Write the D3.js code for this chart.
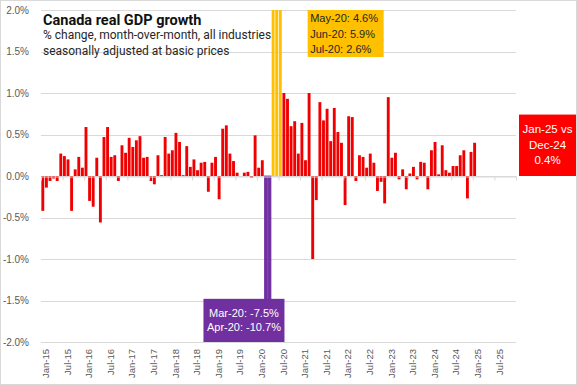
<!DOCTYPE html>
<html>
<head>
<meta charset="utf-8">
<script src="https://cdn.jsdelivr.net/npm/d3@7"></script>
<style>
  body { margin: 0; background: #fff; }
  .axis text { font-family: "Liberation Sans", Arial, sans-serif; fill: #595959; }
</style>
</head>
<body>
<div id="my_chart"></div>
<script>
// monthly % change, Jan-15 .. Jan-25
var gdp_values = [
  -0.42, -0.14, -0.06, -0.03, -0.06, 0.27, 0.24, 0.20, -0.42, 0.08, 0.23, 0.10,
  0.59, -0.30, -0.37, 0.22, -0.56, 0.47, 0.59, 0.23, 0.25, -0.06, 0.37, 0.28,
  0.46, 0.35, 0.43, 0.48, 0.22, 0.23, -0.06, -0.10, 0.25, 0.01, 0.47, 0.27,
  0.31, 0.52, 0.41, 0.01, 0.36, 0.11, 0.20, 0.07, 0.16, 0.17, -0.19, 0.16,
  0.23, -0.28, 0.57, 0.61, 0.27, 0.18, 0.04, 0.00, 0.04, 0.05, -0.02, 0.49,
  0.10, 0.19, -7.5, -10.7, 4.6, 5.9, 2.6, 1.00, 0.93, 0.60, 0.66, 0.27,
  0.64, 0.19, 1.00, -1.00, -0.29, 0.89, 0.67, 0.81, 0.42, 0.82, 0.53, 0.40,
  -0.35, 0.72, 0.71, -0.06, 0.25, 0.23, 0.10, 0.27, 0.16, -0.18, -0.07, -0.33,
  0.95, 0.22, 0.28, -0.04, 0.08, -0.16, 0.03, 0.11, -0.04, 0.17, 0.16, -0.16,
  0.31, 0.41, 0.02, 0.37, 0.07, 0.04, 0.12, 0.12, 0.25, 0.31, -0.27, 0.29,
  0.40
];
var axis_start = new Date(2015, 0, 1);
var axis_end = new Date(2026, 0, 1);   // axis runs to Dec-25
var tick_labels = ["Jan-15", "Jul-15", "Jan-16", "Jul-16", "Jan-17", "Jul-17", "Jan-18", "Jul-18",
  "Jan-19", "Jul-19", "Jan-20", "Jul-20", "Jan-21", "Jul-21", "Jan-22", "Jul-22",
  "Jan-23", "Jul-23", "Jan-24", "Jul-24", "Jan-25", "Jul-25"];
var y_ticks = [-2.0, -1.5, -1.0, -0.5, 0.0, 0.5, 1.0, 1.5, 2.0];
var purple_months = ["Mar-20", "Apr-20"];
var gold_months = ["May-20", "Jun-20", "Jul-20"];
var gold_note = ["May-20: 4.6%", "Jun-20: 5.9%", "Jul-20: 2.6%"];
var purple_note = ["Mar-20: -7.5%", "Apr-20: -10.7%"];
var last_note = ["Jan-25 vs", "Dec-24", "0.4%"];

var W = 577, H = 385;
var margin = {top: 10, right: 61, bottom: 43, left: 41};
var width = W - margin.left - margin.right;
var height = H - margin.top - margin.bottom;

var fmt = d3.timeFormat("%b-%y");
var months = d3.timeMonth.range(axis_start, axis_end).map(fmt);
var gdp_db = gdp_values.map(function (v, i) { return {month: months[i], value: v}; });

var svg = d3.select("#my_chart").append("svg")
  .attr("width", W)
  .attr("height", H);

svg.append("rect")
  .attr("x", 0.5).attr("y", 0.5)
  .attr("width", W - 1).attr("height", H - 1)
  .attr("fill", "#fff")
  .attr("stroke", "#d9d9d9");

var g = svg.append("g")
  .attr("transform", "translate(" + margin.left + "," + margin.top + ")");

var x = d3.scaleBand()
  .domain(months)
  .range([0, width])
  .paddingInner(0.2)
  .paddingOuter(0.1);

var y = d3.scaleLinear()
  .domain([-2, 2])
  .range([height, 0]);

// gridlines
g.append("g")
  .selectAll("line")
  .data(y_ticks)
  .enter().append("line")
  .attr("x1", 0).attr("x2", width)
  .attr("y1", function (d) { return Math.round(y(d)) + 0.5; })
  .attr("y2", function (d) { return Math.round(y(d)) + 0.5; })
  .attr("stroke", "#d9d9d9");

// y labels
g.append("g")
  .attr("class", "axis")
  .call(d3.axisLeft(y).tickValues(y_ticks).tickSize(0).tickPadding(12)
    .tickFormat(function (d) { return d.toFixed(1) + "%"; }))
  .call(function (a) { a.select(".domain").remove(); })
  .selectAll("text").attr("font-size", 10).attr("font-family", "Liberation Sans, Arial, sans-serif");

svg.append("clipPath").attr("id", "plotclip")
  .append("rect").attr("x", 0).attr("y", 0).attr("width", width).attr("height", height);

function barColor(m) {
  if (purple_months.indexOf(m) >= 0) return "#7030a0";
  if (gold_months.indexOf(m) >= 0) return "#ffc000";
  return "#f00000";
}

g.append("g")
  .attr("clip-path", "url(#plotclip)")
  .selectAll("rect")
  .data(gdp_db)
  .enter().append("rect")
  .attr("x", function (d) { return x(d.month); })
  .attr("width", x.bandwidth())
  .attr("y", function (d) { return d.value >= 0 ? y(d.value) : y(0); })
  .attr("height", function (d) { return Math.abs(y(d.value) - y(0)); })
  .attr("fill", function (d) { return barColor(d.month); })
  // the two lockdown months read as one solid bar
  .attr("stroke", function (d) { return purple_months.indexOf(d.month) >= 0 ? "#7030a0" : "none"; })
  .attr("stroke-width", 0.8);

// zero axis with ticks at category boundaries every 6 months
var xb = d3.scaleLinear().domain([0, months.length]).range([0, width]);
g.append("g")
  .attr("transform", "translate(0," + (Math.round(y(0)) + 0.5) + ")")
  .call(d3.axisBottom(xb).tickValues(d3.range(0, months.length + 1, 6)).tickSizeInner(4).tickSizeOuter(0).tickFormat(""))
  .call(function (a) {
    a.select(".domain").attr("stroke", "#d9d9d9");
    a.selectAll(".tick line").attr("stroke", "#d9d9d9");
  });

// month labels along the bottom
g.append("g")
  .attr("class", "axis")
  .selectAll("text")
  .data(tick_labels)
  .enter().append("text")
  .attr("transform", function (d) {
    return "translate(" + (x(d) + x.bandwidth() / 2 + 3) + "," + (height + 7) + ") rotate(-90)";
  })
  .attr("text-anchor", "end")
  .attr("dy", "0.35em")
  .attr("font-size", 9.5)
  .attr("font-family", "Liberation Sans Narrow, Arial Narrow, Roboto, sans-serif")
  .text(function (d) { return d; });

// title block
svg.append("text")
  .attr("x", 43).attr("y", 25)
  .attr("font-family", "Roboto, sans-serif")
  .attr("font-weight", "bold")
  .attr("font-size", 14.5)
  .attr("fill", "#111")
  .text("Canada real GDP growth");
svg.append("text")
  .attr("x", 43).attr("y", 39)
  .attr("font-family", "Roboto, sans-serif")
  .attr("font-size", 12)
  .attr("fill", "#262626")
  .text("% change, month-over-month, all industries");
svg.append("text")
  .attr("x", 43).attr("y", 55)
  .attr("font-family", "Roboto, sans-serif")
  .attr("font-size", 12)
  .attr("fill", "#262626")
  .text("seasonally adjusted at basic prices");

// gold note
var gx = margin.left + x("Mar-21");
var gy = margin.top + y(2.0);
svg.append("rect")
  .attr("x", gx).attr("y", gy).attr("width", 76).attr("height", 47)
  .attr("fill", "#ffc000");
svg.append("g").selectAll("text")
  .data(gold_note)
  .enter().append("text")
  .attr("x", gx + 2.5)
  .attr("y", function (d, i) { return gy + 12 + i * 15.5; })
  .attr("font-family", "Liberation Sans, Arial, sans-serif")
  .attr("font-size", 11)
  .attr("fill", "#262626")
  .text(function (d) { return d; });

// purple note
var py = margin.top + y(-1.48);
var pbottom = margin.top + y(-2.0);
var pright = margin.left + x("Aug-20") + 2;
svg.append("rect")
  .attr("x", pright - 81).attr("y", py).attr("width", 81).attr("height", pbottom - py)
  .attr("fill", "#7030a0");
svg.append("g").selectAll("text")
  .data(purple_note)
  .enter().append("text")
  .attr("x", pright - 40.5)
  .attr("y", function (d, i) { return py + 18 + i * 14.5; })
  .attr("text-anchor", "middle")
  .attr("font-family", "Liberation Sans, Arial, sans-serif")
  .attr("font-size", 11)
  .attr("fill", "#fff")
  .text(function (d) { return d; });

// last month note
var ry = margin.top + y(0.74);
var rbottom = margin.top + y(0);
svg.append("rect")
  .attr("x", 519).attr("y", ry).attr("width", 57).attr("height", rbottom - ry)
  .attr("fill", "#ff0000");
svg.append("g").selectAll("text")
  .data(last_note)
  .enter().append("text")
  .attr("x", 547.5)
  .attr("y", function (d, i) { return ry + 18.5 + i * 15.5; })
  .attr("text-anchor", "middle")
  .attr("font-family", "Liberation Sans, Arial, sans-serif")
  .attr("font-size", 11.5)
  .attr("fill", "#fff")
  .text(function (d) { return d; });
</script>
</body>
</html>
